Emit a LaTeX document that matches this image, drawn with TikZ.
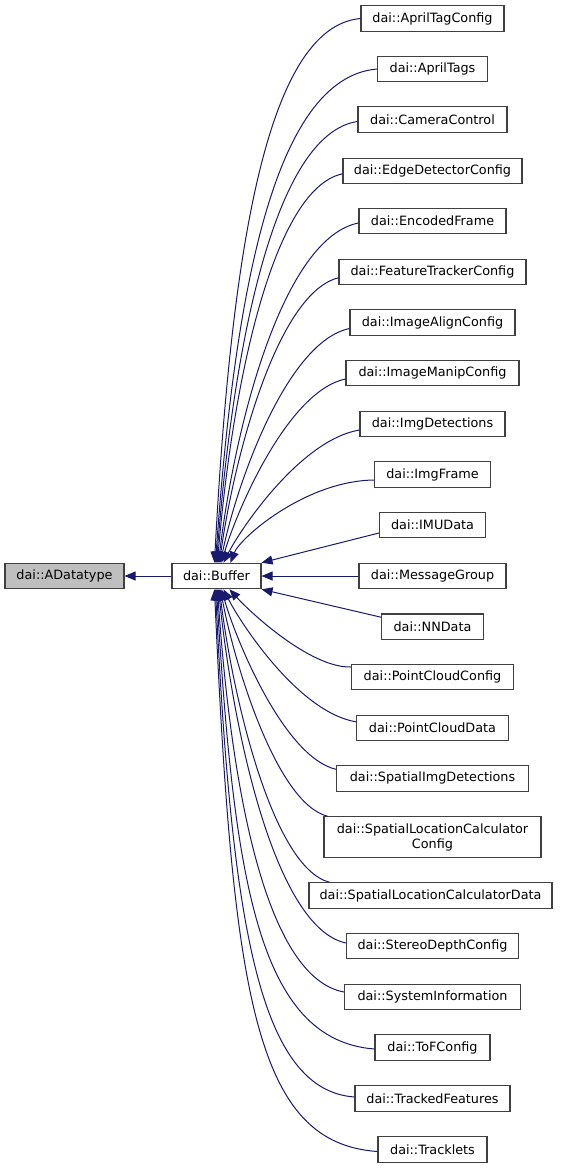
\documentclass[tikz,border=0pt]{standalone}
\usepackage{fontspec}
\setmainfont{DejaVu Sans}
\usetikzlibrary{arrows.meta,calc}
\definecolor{edgeblue}{HTML}{191970}
\definecolor{boxline}{HTML}{404040}
\definecolor{basefill}{HTML}{BFBFBF}
\begin{document}
\begin{tikzpicture}[x=1pt,y=-1pt,
  cls/.style={draw=boxline, line width=1.1pt, fill=white, inner sep=0pt,
    minimum height=25.5pt, font=\fontsize{12.8}{15}\selectfont, text=black},
  edge/.style={draw=edgeblue, line width=1pt, -{Triangle[length=11pt,width=9pt]}}]
\useasboundingbox (0,0) rectangle (561,1168);

\node[cls, fill=basefill, minimum width=119pt] (base) at (64.5,576) {dai::ADatatype};
\node[cls, minimum width=89pt] (buf) at (216.5,576) {dai::Buffer};

\node[cls, minimum width=143pt] (c1) at (432.5,18.5) {dai::AprilTagConfig};
\node[cls, minimum width=110pt] (c2) at (432.5,69) {dai::AprilTags};
\node[cls, minimum width=149pt] (c3) at (432.5,119.5) {dai::CameraControl};
\node[cls, minimum width=179pt] (c4) at (432.5,170.8) {dai::EdgeDetectorConfig};
\node[cls, minimum width=147pt] (c5) at (432.5,221) {dai::EncodedFrame};
\node[cls, minimum width=187pt] (c6) at (432.5,271.8) {dai::FeatureTrackerConfig};
\node[cls, minimum width=165pt] (c7) at (432.5,322.5) {dai::ImageAlignConfig};
\node[cls, minimum width=173pt] (c8) at (432.5,373) {dai::ImageManipConfig};
\node[cls, minimum width=145pt] (c9) at (432.5,424) {dai::ImgDetections};
\node[cls, minimum width=116pt] (c10) at (432.5,474.5) {dai::ImgFrame};
\node[cls, minimum width=106pt] (c11) at (432.5,525) {dai::IMUData};
\node[cls, minimum width=147pt] (c12) at (432.5,576) {dai::MessageGroup};
\node[cls, minimum width=102pt] (c13) at (432.5,626.7) {dai::NNData};
\node[cls, minimum width=162pt] (c14) at (432.5,677) {dai::PointCloudConfig};
\node[cls, minimum width=152pt] (c15) at (432.5,727.8) {dai::PointCloudData};
\node[cls, minimum width=192pt] (c16) at (432.5,778.3) {dai::SpatialImgDetections};
\node[cls, minimum width=217pt, minimum height=40.5pt, align=center] (c17) at (432.5,837) {dai::SpatialLocationCalculator\\Config};
\node[cls, minimum width=243pt] (c18) at (430.5,895.5) {dai::SpatialLocationCalculatorData};
\node[cls, minimum width=172pt] (c19) at (432.5,946) {dai::StereoDepthConfig};
\node[cls, minimum width=176pt] (c20) at (432.5,997) {dai::SystemInformation};
\node[cls, minimum width=115pt] (c21) at (432.5,1047.5) {dai::ToFConfig};
\node[cls, minimum width=155pt] (c22) at (432.5,1098.5) {dai::TrackedFeatures};
\node[cls, minimum width=109pt] (c23) at (432.5,1149.5) {dai::Tracklets};

\draw[edge] (buf.west) -- (base.east);

% upper edges
\draw[edge] (c1.west) .. controls (266,27) and (231,253) .. ($(buf.north west)+(43,0)$);
\draw[edge] (c2.west) .. controls (272,78) and (234,300) .. ($(buf.north west)+(44,0)$);
\draw[edge] ($(c3.west)+(0,2)$) .. controls (274,134) and (233,347) .. ($(buf.north west)+(45,0)$);
\draw[edge] ($(c4.west)+(0,3)$) .. controls (272,189) and (232,388) .. ($(buf.north west)+(46,0)$);
\draw[edge] ($(c5.west)+(0,2)$) .. controls (283,238) and (235,424) .. ($(buf.north west)+(47,0)$);
\draw[edge] ($(c6.west)+(0,6)$) .. controls (277,293) and (234,458) .. ($(buf.north west)+(48,0)$);
\draw[edge] ($(c7.west)+(0,6)$) .. controls (286,342) and (236,486) .. ($(buf.north west)+(49,0)$);
\draw[edge] ($(c8.west)+(0,6)$) .. controls (288,391) and (237,510) .. ($(buf.north west)+(50,0)$);
\draw[edge] ($(c9.west)+(0,6)$) .. controls (300,440) and (240,530) .. ($(buf.north west)+(52,0)$);
\draw[edge] ($(c10.west)+(0,5.5)$) .. controls (305,481) and (240,538) .. ($(buf.north west)+(59,0)$);
\draw[edge] ($(c11.west)+(0,8)$) -- (buf.north east);

% middle
\draw[edge] (c12.west) -- (buf.east);

% lower edges
\draw[edge] ($(c13.west)+(0,-9.5)$) -- (buf.south east);
\draw[edge] ($(c14.west)+(0,-10)$) .. controls (310,668) and (250,612) .. ($(buf.south west)+(58,0)$);
\draw[edge] ($(c15.west)+(0,-6)$) .. controls (298,712) and (240,622) .. ($(buf.south west)+(52,0)$);
\draw[edge] ($(c16.west)+(0,-9)$) .. controls (284,757) and (236,640) .. ($(buf.south west)+(50,0)$);
\draw[edge] ($(c17.north west)+(4,0)$) .. controls (276,803) and (234,662) .. ($(buf.south west)+(49,0)$);
\draw[edge] ($(c18.north west)+(21,0)$) .. controls (273,868) and (233,699) .. ($(buf.south west)+(48,0)$);
\draw[edge] ($(c19.west)+(0,-3)$) .. controls (276,928) and (234,737) .. ($(buf.south west)+(47,0)$);
\draw[edge] ($(c20.west)+(0,-5)$) .. controls (268,978) and (232,800) .. ($(buf.south west)+(46,0)$);
\draw[edge] ($(c21.west)+(0,1.5)$) .. controls (258,1040) and (234,880) .. ($(buf.south west)+(45,0)$);
\draw[edge] ($(c22.west)+(0,-1.5)$) .. controls (260,1090) and (232,930) .. ($(buf.south west)+(44,0)$);
\draw[edge] ($(c23.west)+(0,2)$) .. controls (256,1143) and (233,1000) .. ($(buf.south west)+(43,0)$);
\end{tikzpicture}
\end{document}
